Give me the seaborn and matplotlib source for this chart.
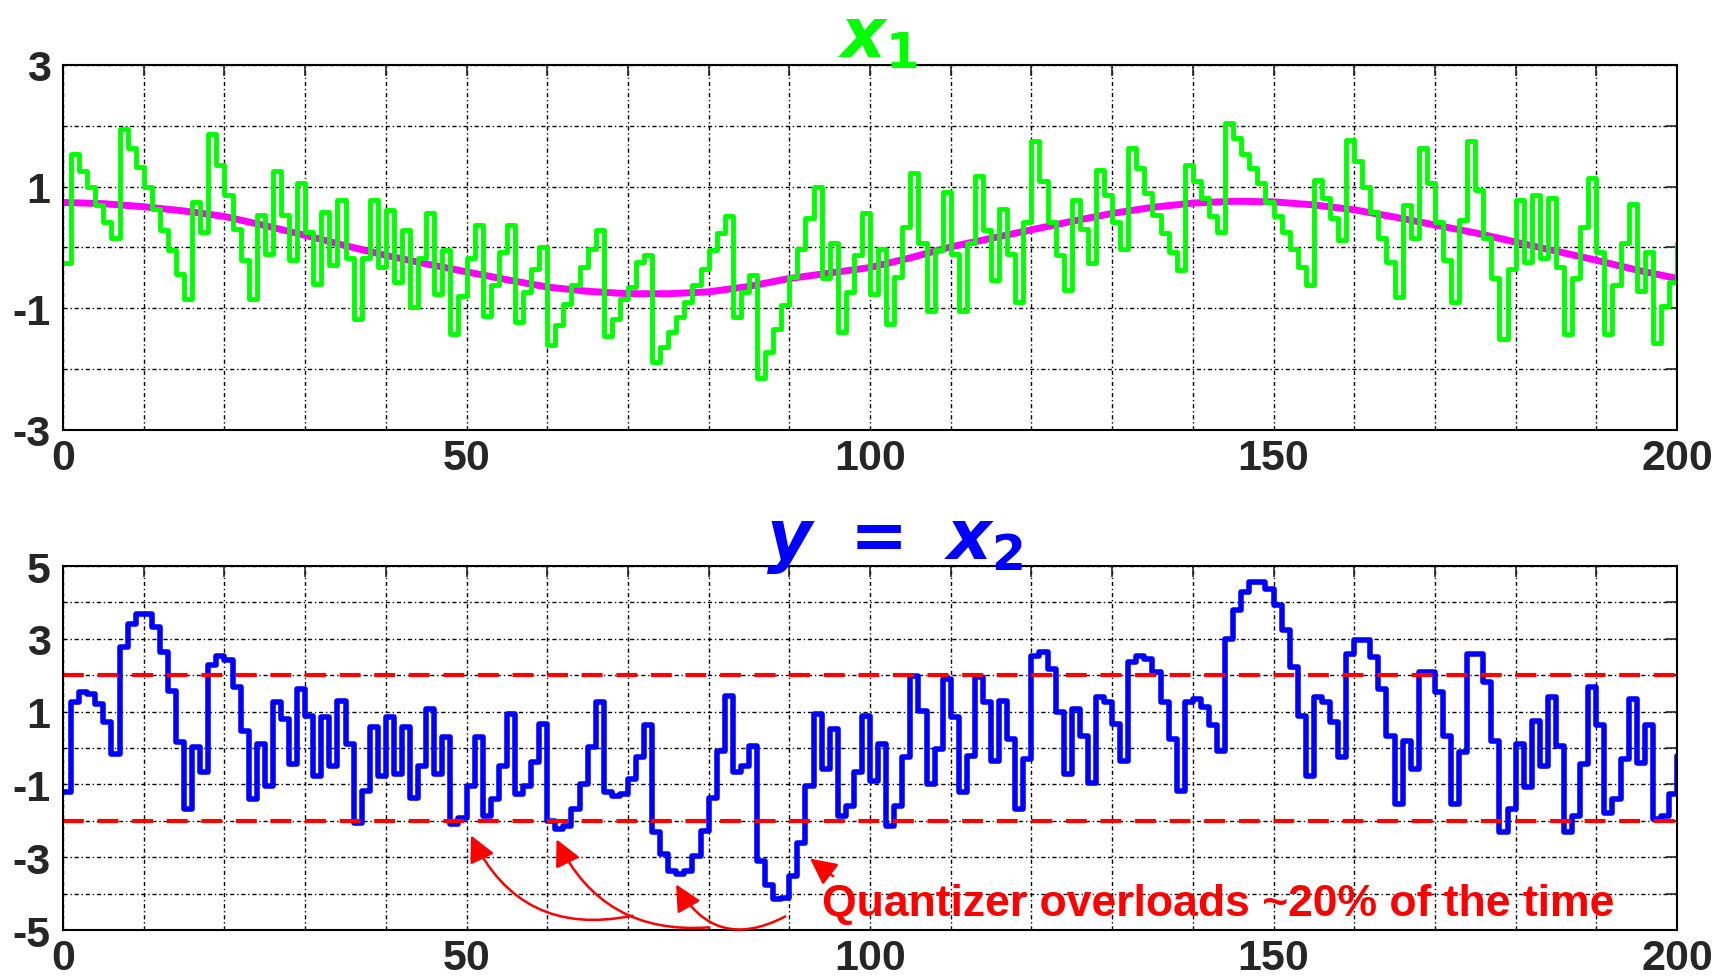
import numpy as np
import pandas as pd
import matplotlib
matplotlib.use("Agg")
import matplotlib.pyplot as plt
import seaborn as sns

# sample values (n = 0..200)
x1_vals = [
    -0.26, 1.53, 1.25, 1.0, 0.7, 0.42, 0.15, 1.94, 1.64, 1.33,
    1.0, 0.64, 0.29, -0.04, -0.43, -0.84, 0.75, 0.26, 1.86, 1.36,
    0.87, 0.31, -0.21, -0.84, 0.53, -0.1, 1.25, 0.53, -0.21, 1.06,
    0.26, -0.6, 0.59, -0.29, 0.78, -0.18, -1.17, -0.18, 0.78, -0.32,
    0.62, -0.57, 0.29, -0.98, -0.18, 0.56, -0.76, -0.04, -1.42, -0.79,
    -0.18, 0.37, -1.12, -0.62, -0.07, 0.37, -1.23, -0.73, -0.35, 0.01,
    -1.61, -1.28, -0.93, -0.62, -0.32, -0.02, 0.29, -1.45, -1.17, -0.84,
    -0.65, -0.24, -0.13, -1.89, -1.64, -1.39, -1.15, -0.9, -0.62, -0.35,
    -0.04, 0.23, 0.51, -1.15, -0.73, -0.46, -2.14, -1.72, -1.34, -0.95,
    -0.48, -0.02, 0.48, 1.0, -0.51, 0.07, -1.39, -0.73, -0.13, 0.56,
    -0.76, -0.02, -1.26, -0.48, 0.34, 1.22, 0.07, -1.04, -0.04, 0.92,
    -0.1, -1.04, 0.07, 1.17, 0.29, -0.54, 0.64, -0.1, -0.9, 0.42,
    1.75, 1.09, 0.42, -0.13, -0.7, 0.78, 0.31, -0.26, 1.28, 0.87,
    0.42, -0.02, 1.64, 1.31, 0.89, 0.53, 0.23, -0.07, -0.37, 1.36,
    1.09, 0.81, 0.51, 0.26, 2.05, 1.8, 1.53, 1.31, 1.06, 0.75,
    0.51, 0.26, -0.02, -0.32, -0.62, 1.11, 0.81, 0.48, 0.12, 1.77,
    1.42, 1.0, 0.59, 0.15, -0.24, -0.82, 0.7, 0.15, 1.64, 1.06,
    0.42, -0.21, -0.9, 0.45, 1.75, 0.95, 0.15, -0.51, -1.5, -0.35,
    0.78, -0.24, 0.87, -0.18, 0.81, -0.32, -1.42, -0.51, 0.34, 1.14,
    -0.07, -1.42, -0.62, 0.07, 0.71, -0.71, -0.07, -1.57, -0.96, -0.57,
    0.07,
]

y_vals = [
    -1.22, 1.26, 1.53, 1.49, 1.21, 0.71, -0.17, 2.77, 3.42, 3.69,
    3.69, 3.32, 2.64, 1.58, 0.16, -1.68, 0.02, -0.67, 2.27, 2.54,
    2.41, 1.67, 0.48, -1.4, 0.11, -1.04, 1.26, 0.8, -0.44, 1.63,
    0.89, -0.76, 0.84, -0.49, 1.3, 0.11, -2.05, -1.18, 0.57, -0.76,
    0.84, -0.72, 0.57, -1.36, -0.49, 1.07, -0.72, 0.29, -2.09, -1.91,
    -1.04, 0.29, -1.86, -1.4, -0.49, 0.94, -1.27, -1.04, -0.39, 0.66,
    -2.0, -2.23, -2.14, -1.68, -0.99, 0.02, 1.26, -1.22, -1.31, -1.27,
    -0.85, -0.26, 0.62, -2.32, -2.92, -3.38, -3.47, -3.38, -2.97, -2.28,
    -1.36, -0.07, 1.44, -0.67, -0.49, 0.06, -3.1, -3.75, -4.16, -4.11,
    -3.52, -2.6, -1.04, 0.94, -0.58, 0.52, -1.86, -1.59, -0.67, 0.89,
    -0.9, 0.11, -2.14, -1.59, -0.26, 1.99, 1.03, -0.99, -0.03, 1.9,
    0.84, -1.22, -0.21, 1.95, 1.26, -0.35, 1.3, 0.25, -1.68, -0.3,
    2.54, 2.64, 2.18, 0.98, -0.72, 1.07, 0.34, -0.95, 1.4, 1.26,
    0.66, -0.35, 2.36, 2.54, 2.45, 2.08, 1.26, 0.25, -1.18, 1.26,
    1.35, 1.12, 0.62, -0.07, 3.0, 3.78, 4.29, 4.56, 4.56, 4.38,
    3.92, 3.23, 2.22, 0.89, -0.76, 1.4, 1.26, 0.71, -0.26, 2.59,
    2.96, 2.96, 2.5, 1.63, 0.34, -1.54, 0.2, -0.58, 2.08, 2.08,
    1.53, 0.34, -1.54, -0.12, 2.59, 2.59, 1.81, 0.2, -2.32, -1.68,
    0.11, -1.08, 0.75, -0.49, 1.4, 0.06, -2.32, -1.87, -0.44, 1.68,
    0.62, -1.78, -1.41, -0.3, 1.35, -0.4, 0.62, -1.96, -1.87, -1.27,
    -0.21,
]

# slow underlying signal (magenta), read every 5 samples
smooth_n = list(range(0, 201, 5))
smooth_vals = [
    0.74, 0.72, 0.67, 0.6, 0.51, 0.36, 0.2, 0.03, -0.13, -0.27,
    -0.4, -0.53, -0.65, -0.72, -0.76, -0.76, -0.73, -0.64, -0.51, -0.42,
    -0.33, -0.17, 0.01, 0.15, 0.29, 0.43, 0.56, 0.66, 0.73, 0.76,
    0.75, 0.7, 0.62, 0.5, 0.37, 0.24, 0.09, -0.06, -0.21, -0.37,
    -0.51,
]

limit = 2
n = np.arange(len(x1_vals))

sns.set_style("white")
narrow = ["Liberation Sans Narrow", "DejaVu Sans Condensed", "Liberation Sans", "DejaVu Sans"]
plt.rcParams["font.family"] = narrow
plt.rcParams["font.weight"] = "bold"
plt.rcParams["mathtext.fontset"] = "custom"
plt.rcParams["mathtext.it"] = "Liberation Sans Narrow:italic:bold"
plt.rcParams["mathtext.rm"] = "Liberation Sans Narrow:bold"
plt.rcParams["mathtext.bf"] = "Liberation Sans Narrow:bold"

fig = plt.figure(figsize=(17.23, 9.79), dpi=100)
ax1 = fig.add_axes([0.0366, 0.5598, 0.9367, 0.3728])
ax2 = fig.add_axes([0.0366, 0.0490, 0.9367, 0.3718])

grid_style = dict(color="black", linestyle=(0, (3, 2, 1, 2)), linewidth=1.0)


def style_axis(ax, ymin, ymax, ylabels):
    ax.set_xlim(0, 200)
    ax.set_ylim(ymin, ymax)
    ax.set_xticks(range(0, 201, 10))
    ax.set_xticklabels([str(v) if v % 50 == 0 else "" for v in range(0, 201, 10)])
    yt = list(range(ymin, ymax + 1))
    ax.set_yticks(yt)
    ax.set_yticklabels([str(v) if v in ylabels else "" for v in yt])
    ax.grid(True, **grid_style)
    ax.set_axisbelow(True)
    ax.tick_params(direction="in", length=8, width=1.2, top=True, right=True,
                   labelsize=31)
    ax.tick_params(axis="x", pad=6)
    ax.tick_params(axis="y", pad=9)
    for sp in ax.spines.values():
        sp.set_color("black")
        sp.set_linewidth(1.5)
    ax.set_xlabel("")
    ax.set_ylabel("")


# top: x1 with the slow signal
sns.lineplot(x=smooth_n, y=smooth_vals, ax=ax1, color="#ff00ff", linewidth=5,
             legend=False)
sns.lineplot(x=n, y=x1_vals, ax=ax1, color="#00ff00", linewidth=3.5,
             drawstyle="steps-post", legend=False)
style_axis(ax1, -3, 3, [3, 1, -1, -3])
ax1.set_title(r"$x_1$", color="#00ff00", fontsize=50, pad=6, x=0.505)

# bottom: y = x2 with quantizer limits
sns.lineplot(x=n, y=y_vals, ax=ax2, color="#0000ff", linewidth=4,
             drawstyle="steps-post", legend=False)
ax2.axhline(limit, color="red", linewidth=3, linestyle=(0, (5, 3.3)))
ax2.axhline(-limit, color="red", linewidth=3, linestyle=(0, (5, 3.3)))
style_axis(ax2, -5, 5, [5, 3, 1, -1, -3, -5])
ax2.set_title(r"$y\ =\ x_2$", color="#0000ff", fontsize=50, pad=6, x=0.515)

ax2.text(94, -4.26, "Quantizer overloads ~20% of the time", color="red",
         fontsize=32, fontweight="bold", family=["Liberation Sans", "DejaVu Sans"],
         ha="left", va="center")

arrow_tips = [(50.4, -2.33), (61.0, -2.44), (75.8, -3.68), (92.3, -2.99)]
arrow_tails = [(70.9, -4.59), (80.4, -4.92), (89.8, -4.59), (95.7, -3.57)]
arrow_rads = [-0.4, -0.35, -0.5, 0.0]
for tip, tail, rad in zip(arrow_tips, arrow_tails, arrow_rads):
    ax2.annotate("", xy=tip, xytext=tail,
                 arrowprops=dict(arrowstyle="-|>", color="red", lw=1.8,
                                 mutation_scale=40,
                                 connectionstyle=f"arc3,rad={rad}"))

fig.savefig("out.png", dpi=100)
